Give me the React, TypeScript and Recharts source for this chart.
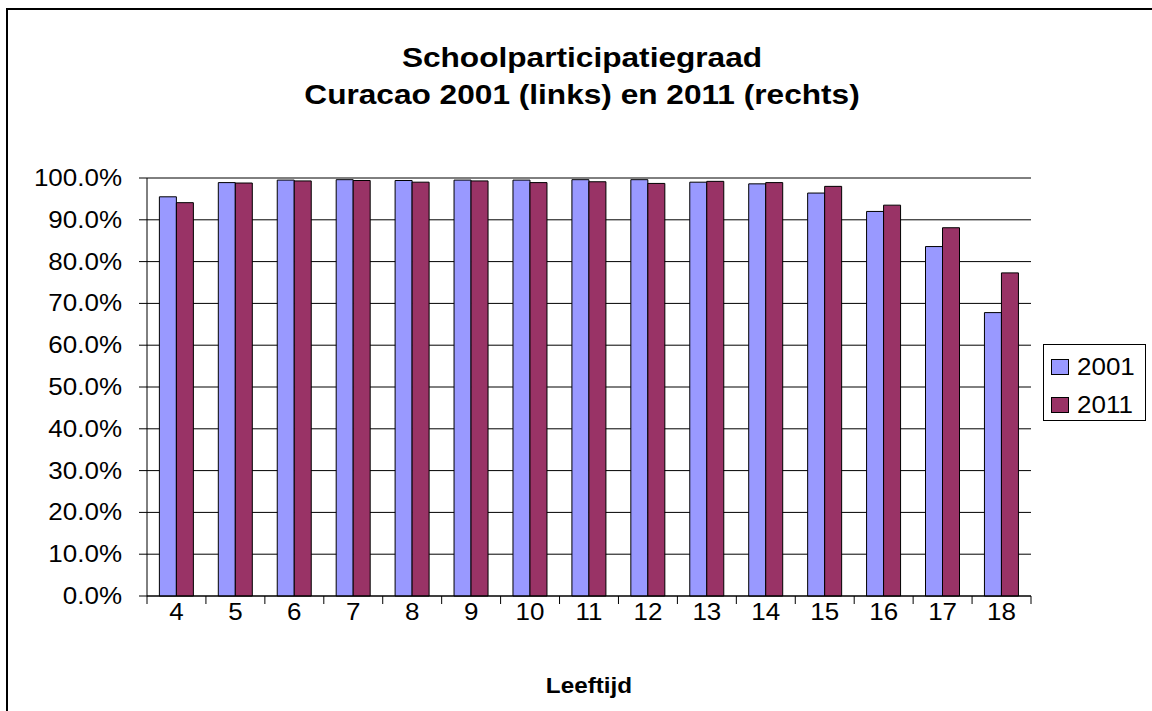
import React from 'react';
import { BarChart, Bar, XAxis, YAxis, CartesianGrid } from 'recharts';

const ages = ['4', '5', '6', '7', '8', '9', '10', '11', '12', '13', '14', '15', '16', '17', '18'];
const values2001 = [95.5, 98.9, 99.5, 99.6, 99.4, 99.5, 99.5, 99.6, 99.6, 99.0, 98.6, 96.4, 92.0, 83.6, 67.8];
const values2011 = [94.1, 98.8, 99.3, 99.4, 99.0, 99.3, 98.9, 99.1, 98.7, 99.2, 98.9, 98.0, 93.5, 88.1, 77.3];
const yTicks = [0, 10, 20, 30, 40, 50, 60, 70, 80, 90, 100];
const seriesNames = ['2001', '2011'];
const titleLines = ['Schoolparticipatiegraad', 'Curacao 2001 (links) en 2011 (rechts)'];
const xTitle = 'Leeftijd';

const COLORS = ['#9999FF', '#993366'];
const FONT = '"Liberation Sans", Arial, sans-serif';
const STRETCH = 1.13;

const data = ages.map((a, i) => ({ age: a, v2001: values2001[i], v2011: values2011[i] }));

const YTick = (props: any) => {
  const { x, y, payload } = props;
  return (
    <text
      transform={`translate(${x - 17},${y + 8}) scale(${STRETCH},1)`}
      textAnchor="end"
      fontFamily={FONT}
      fontSize={23}
      fill="#000"
    >
      {`${Number(payload.value).toFixed(1)}%`}
    </text>
  );
};

const XTick = (props: any) => {
  const { x, y, payload, width, visibleTicksCount, index } = props;
  const off = payload.offset || width / visibleTicksCount / 2;
  const isLast = index === visibleTicksCount - 1;
  return (
    <g>
      <line x1={x - off} x2={x - off} y1={y} y2={y + 8} stroke="#000" strokeWidth={1} />
      {isLast && <line x1={x + off} x2={x + off} y1={y} y2={y + 8} stroke="#000" strokeWidth={1} />}
      <text
        transform={`translate(${x},${y + 24}) scale(${STRETCH},1)`}
        textAnchor="middle"
        fontFamily={FONT}
        fontSize={23}
        fill="#000"
      >
        {payload.value}
      </text>
    </g>
  );
};

export default function App() {
  return (
    <div style={{ position: 'absolute', left: 0, top: 0, width: 1152, height: 711, overflow: 'hidden', background: '#fff' }}>
      <div
        style={{
          position: 'absolute',
          left: 6,
          top: 8,
          width: 1170,
          height: 730,
          border: '2px solid #000',
          boxSizing: 'border-box',
        }}
      />
      <svg width={1152} height={711} style={{ position: 'absolute', left: 0, top: 0 }}>
        {titleLines.map((t, i) => (
          <text
            key={i}
            transform={`translate(582,${i === 0 ? 67 : 104}) scale(${STRETCH},1)`}
            textAnchor="middle"
            fontFamily={FONT}
            fontWeight="bold"
            fontSize={28}
            fill="#000"
          >
            {t}
          </text>
        ))}
        <text
          transform={`translate(589,693) scale(${STRETCH},1)`}
          textAnchor="middle"
          fontFamily={FONT}
          fontWeight="bold"
          fontSize={21.5}
          fill="#000"
        >
          {xTitle}
        </text>
      </svg>
      <div style={{ position: 'absolute', left: 0, top: 0 }}>
        <BarChart
          width={1152}
          height={711}
          data={data}
          margin={{ top: 178, right: 121, left: 0, bottom: 75 }}
          barCategoryGap="21%"
          barGap={0}
        >
          <CartesianGrid yAxisId="left" vertical={false} stroke="#000" strokeWidth={1} />
          <XAxis
            dataKey="age"
            height={40}
            tickLine={false}
            tickSize={0}
            tickMargin={0}
            axisLine={{ stroke: '#000' }}
            tick={<XTick />}
            interval={0}
          />
          <YAxis
            yAxisId="left"
            width={147}
            domain={[0, 100]}
            ticks={yTicks}
            tickSize={8}
            tickMargin={0}
            tickLine={{ stroke: '#000' }}
            axisLine={{ stroke: '#000' }}
            tick={<YTick />}
            interval={0}
          />
          <YAxis
            yAxisId="right"
            orientation="right"
            width={0}
            domain={[0, 100]}
            tick={false}
            tickLine={false}
            axisLine={{ stroke: '#000' }}
          />
          <Bar yAxisId="left" dataKey="v2001" name={seriesNames[0]} fill={COLORS[0]} stroke="#000" strokeWidth={1} isAnimationActive={false} />
          <Bar yAxisId="left" dataKey="v2011" name={seriesNames[1]} fill={COLORS[1]} stroke="#000" strokeWidth={1} isAnimationActive={false} />
        </BarChart>
      </div>
      <div
        style={{
          position: 'absolute',
          left: 1043,
          top: 344,
          width: 103,
          height: 77,
          border: '1px solid #000',
          boxSizing: 'border-box',
          background: '#fff',
        }}
      >
        {seriesNames.map((n, i) => (
          <div key={n} style={{ position: 'absolute', left: 7, top: i === 0 ? 13 : 51, height: 18, display: 'flex', alignItems: 'center' }}>
            <div style={{ width: 18, height: 16, background: COLORS[i], border: '1px solid #000', boxSizing: 'border-box' }} />
            <span
              style={{
                fontFamily: FONT,
                fontSize: 23,
                color: '#000',
                marginLeft: 8,
                display: 'inline-block',
                transform: `scaleX(${STRETCH})`,
                transformOrigin: 'left center',
                lineHeight: '18px',
              }}
            >
              {n}
            </span>
          </div>
        ))}
      </div>
    </div>
  );
}
